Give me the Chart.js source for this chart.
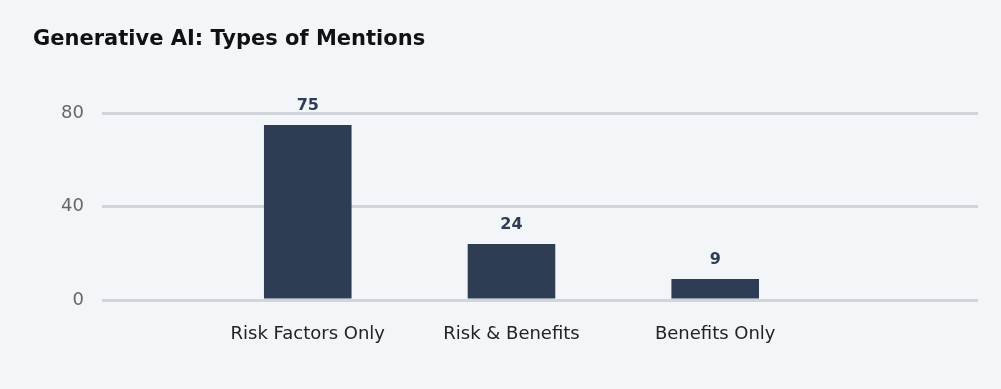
<!DOCTYPE html>
<html>
<head>
<meta charset="utf-8">
<script src="https://cdn.jsdelivr.net/npm/chart.js@4"></script>
<style>
    html, body { margin: 0; padding: 0; background: #f3f6f9; }
    #wrap { width: 1001px; height: 389px; }
</style>
</head>
<body>
<div id="wrap"><canvas id="chart"></canvas></div>
<script>
// Chart data
const categories = ['Risk Factors Only', 'Risk & Benefits', 'Benefits Only'];
const mentions = [75, 24, 9];
const yTicks = [0, 40, 80];

const FONT = '"DejaVu Sans", sans-serif';

// Draws the value above each bar
const valueLabels = {
    id: 'valueLabels',
    afterDatasetsDraw(chart) {
        const ctx = chart.ctx;
        const meta = chart.getDatasetMeta(0);
        ctx.save();
        ctx.font = 'bold 16px ' + FONT;
        ctx.fillStyle = '#2e3d53';
        ctx.textAlign = 'center';
        ctx.textBaseline = 'middle';
        meta.data.forEach((bar, i) => {
            ctx.fillText(mentions[i], bar.x, bar.y - 19);
        });
        ctx.restore();
    }
};

new Chart(document.getElementById('chart'), {
    type: 'bar',
    data: {
        datasets: [{
            data: mentions.map((v, i) => ({ x: i, y: v })),
            backgroundColor: '#2e3d53',
            categoryPercentage: 1,
            barPercentage: 0.43
        }]
    },
    options: {
        responsive: true,
        maintainAspectRatio: false,
        animation: false,
        layout: { padding: { left: 33, right: 23, top: 0, bottom: 0 } },
        plugins: {
            legend: { display: false },
            tooltip: { enabled: false },
            title: {
                display: true,
                text: 'Generative AI: Types of Mentions',
                align: 'start',
                color: '#111111',
                font: { family: FONT, size: 21, weight: 'bold' },
                padding: { top: 27, bottom: 61 }
            }
        },
        scales: {
            x: {
                type: 'linear',
                offset: false,
                min: -1.01,
                max: 3.29,
                grid: { display: false, drawTicks: false, offset: false },
                border: { display: false },
                afterBuildTicks(axis) {
                    axis.ticks = categories.map((c, i) => ({ value: i }));
                },
                afterFit(axis) { axis.height = 89; },
                ticks: {
                    color: '#222222',
                    padding: 24,
                    maxRotation: 0,
                    autoSkip: false,
                    font: { family: FONT, size: 18 },
                    callback: (v) => categories[v]
                }
            },
            y: {
                min: 0,
                max: 80,
                afterBuildTicks(axis) {
                    axis.ticks = yTicks.map(v => ({ value: v }));
                },
                afterFit(axis) { axis.width = 69; },
                grid: { color: '#d1d5d9', lineWidth: 3, drawTicks: false },
                border: { display: false },
                ticks: {
                    color: '#666666',
                    padding: 18,
                    font: { family: FONT, size: 18 }
                }
            }
        }
    },
    plugins: [valueLabels]
});
</script>
</body>
</html>
